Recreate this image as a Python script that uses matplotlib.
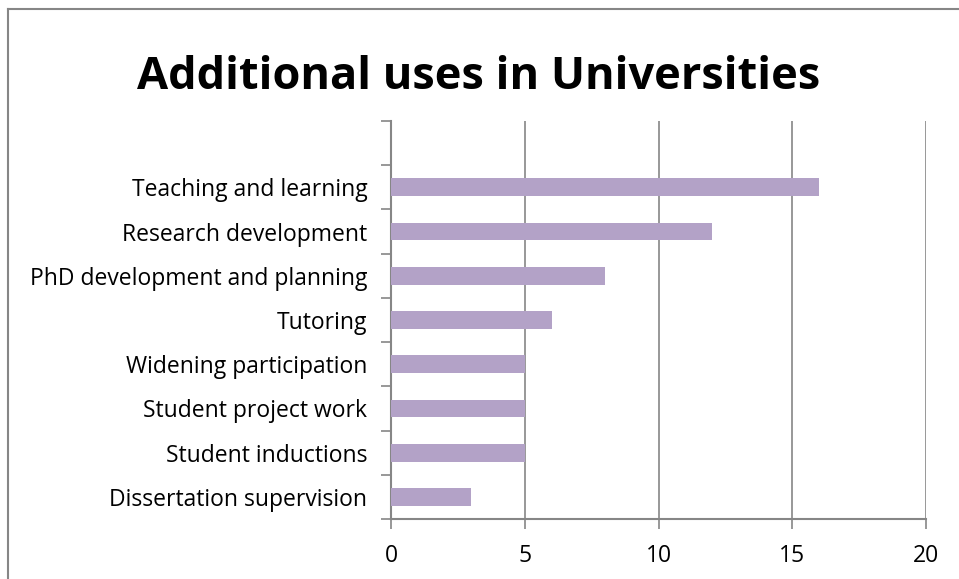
import numpy as np
import matplotlib
matplotlib.use("Agg")
import matplotlib.pyplot as plt

plt.rcParams["font.family"] = ["Open Sans", "DejaVu Sans"]

# 데이터 (아래에서 위 순서, 맨 위 빈 칸 포함)
categories = ["Dissertation supervision", "Student inductions", "Student project work",
              "Widening participation", "Tutoring", "PhD development and planning",
              "Research development", "Teaching and learning", ""]
values = [3, 5, 5, 5, 6, 8, 12, 16, 0]
x_ticks = [0, 5, 10, 15, 20]

BAR_COLOR = "#B3A2C7"
GREY = "#868686"

fig = plt.figure(figsize=(9.59, 5.79), dpi=100)
ax = fig.add_axes([391/959, 60/579, (926-391)/959, (519-121)/579])

y = np.arange(len(categories))
ax.barh(y, values, height=0.4, color=BAR_COLOR, zorder=3)

ax.set_xlim(0, 20)
ax.set_ylim(-0.5, len(categories) - 0.5)
ax.set_xticks(x_ticks)
ax.set_xticklabels([str(v) for v in x_ticks], fontsize=16.5)
ax.set_yticks(y)
ax.set_yticklabels(categories, fontsize=16.5)
ax.set_yticks(np.arange(-0.5, len(categories)), minor=True)
ax.tick_params(axis="y", which="major", length=0, pad=17)
ax.tick_params(axis="y", which="minor", length=7, color=GREY, width=1.2)
ax.tick_params(axis="x", length=7, color=GREY, width=1.2, pad=11)

ax.grid(axis="x", color=GREY, lw=1.2, zorder=0)
for s in ["top", "right"]:
    ax.spines[s].set_visible(False)
for s in ["left", "bottom"]:
    ax.spines[s].set_color(GREY)
    ax.spines[s].set_linewidth(1.5)

fig.text(479/959, 1 - 89/579, "Additional uses in Universities", ha="center", va="baseline",
         fontsize=32.5, fontweight="bold")

# 바깥 테두리 (위, 왼쪽만 보임)
fig.add_artist(plt.Line2D([8/959, 1], [1 - 9/579, 1 - 9/579], color=GREY, lw=1.5,
                          transform=fig.transFigure))
fig.add_artist(plt.Line2D([8/959, 8/959], [0, 1 - 9/579], color=GREY, lw=1.5,
                          transform=fig.transFigure))

fig.savefig("out.png", dpi=100)
